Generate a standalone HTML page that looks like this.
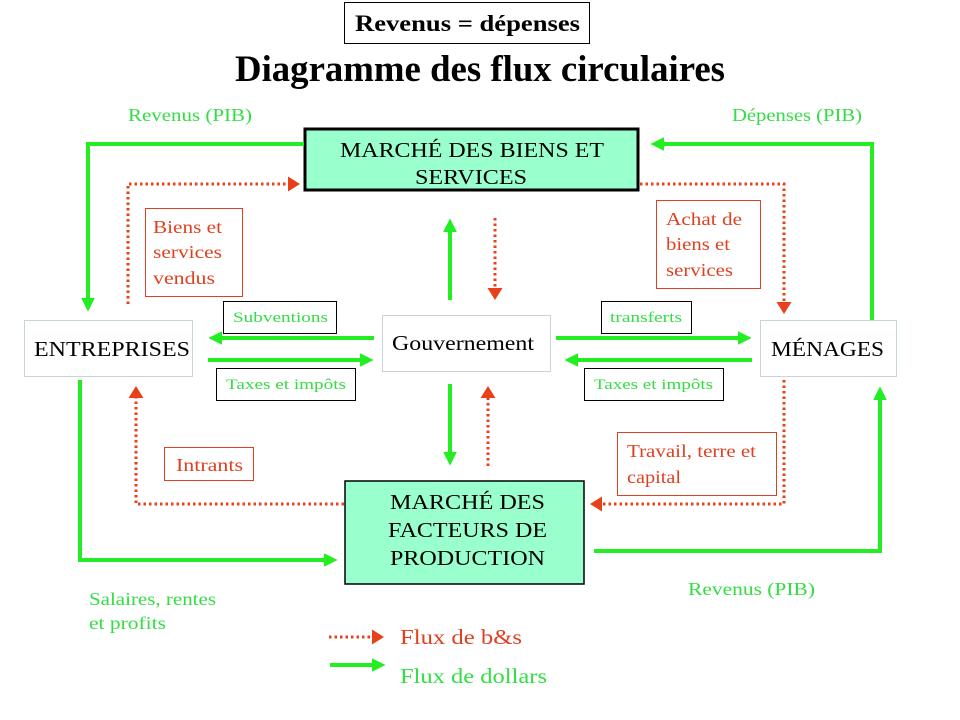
<!DOCTYPE html>
<html><head><meta charset="utf-8"><style>
html,body{margin:0;padding:0;background:#fff;}
svg{display:block;}
text{font-family:"Liberation Serif",serif;}
.g{fill:#33dd44;}
.r{fill:#e04020;}
.k{fill:#000;}
.gl{stroke:#22ee22;stroke-width:4;fill:none;}
.rl{stroke:#e8401a;stroke-width:3;fill:none;stroke-dasharray:2.5 3;}
</style></head><body>
<svg width="960" height="720" viewBox="0 0 960 720" xmlns="http://www.w3.org/2000/svg">
<defs>
<marker id="ga" markerWidth="4" markerHeight="4" refX="2" refY="2" orient="auto" markerUnits="strokeWidth"><path d="M0,0.3 L3.4,2 L0,3.7z" fill="#22ee22"/></marker>
<marker id="ra" markerWidth="5" markerHeight="5" refX="2" refY="2.5" orient="auto" markerUnits="strokeWidth"><path d="M0,0 L4,2.5 L0,5z" fill="#e8401a"/></marker>
</defs>
<g lengthAdjust="spacingAndGlyphs">
<rect x="344.5" y="2.5" width="245" height="41" fill="#fff" stroke="#000" stroke-width="1"/>
<text x="355" y="31" font-size="23" font-weight="bold" class="k" textLength="225" lengthAdjust="spacingAndGlyphs">Revenus = dépenses</text>
<text x="235" y="81" font-size="37" font-weight="bold" class="k" textLength="490" lengthAdjust="spacingAndGlyphs">Diagramme  des flux circulaires</text>

<rect x="305" y="129" width="333" height="61" fill="#99ffcc" stroke="#000" stroke-width="3"/>
<text x="340" y="157" font-size="21" class="k" textLength="264" lengthAdjust="spacingAndGlyphs">MARCHÉ DES BIENS ET</text>
<text x="415" y="184" font-size="21" class="k" textLength="112" lengthAdjust="spacingAndGlyphs">SERVICES</text>

<text x="128" y="121" font-size="18" class="g" textLength="124" lengthAdjust="spacingAndGlyphs">Revenus (PIB)</text>
<text x="732" y="121" font-size="18" class="g" textLength="130" lengthAdjust="spacingAndGlyphs">Dépenses (PIB)</text>

<polyline class="gl" points="304,144 88,144 88,306" marker-end="url(#ga)"/>
<polyline class="rl" points="128,304 128,184 294,184" marker-end="url(#ra)"/>
<polyline class="gl" points="872,320 872,144 656,144" marker-end="url(#ga)"/>
<polyline class="rl" points="640,184 784,184 784,308" marker-end="url(#ra)"/>

<rect x="145.5" y="208.5" width="97" height="88" fill="#fff" stroke="#e04020"/>
<text x="153" y="233" font-size="18" class="r" textLength="69" lengthAdjust="spacingAndGlyphs">Biens et</text>
<text x="153" y="258" font-size="18" class="r" textLength="69" lengthAdjust="spacingAndGlyphs">services</text>
<text x="153" y="284" font-size="18" class="r" textLength="62" lengthAdjust="spacingAndGlyphs">vendus</text>

<rect x="656.5" y="200.5" width="104" height="88" fill="#fff" stroke="#e04020"/>
<text x="666" y="225" font-size="18" class="r" textLength="76" lengthAdjust="spacingAndGlyphs">Achat de</text>
<text x="666" y="250" font-size="18" class="r" textLength="64" lengthAdjust="spacingAndGlyphs">biens et</text>
<text x="666" y="276" font-size="18" class="r" textLength="67" lengthAdjust="spacingAndGlyphs">services</text>

<rect x="24.5" y="320.5" width="168" height="56" fill="#fff" stroke="#c8d4dc"/>
<text x="34" y="356" font-size="21" class="k" textLength="156" lengthAdjust="spacingAndGlyphs">ENTREPRISES</text>
<rect x="382.5" y="315.5" width="168" height="56" fill="#fff" stroke="#c8d4dc"/>
<text x="392" y="350" font-size="21" class="k" textLength="142" lengthAdjust="spacingAndGlyphs">Gouvernement</text>
<rect x="760.5" y="320.5" width="136" height="56" fill="#fff" stroke="#c8d4dc"/>
<text x="771" y="356" font-size="21" class="k" textLength="113" lengthAdjust="spacingAndGlyphs">MÉNAGES</text>

<rect x="223.5" y="301.5" width="113" height="32" fill="#fff" stroke="#000"/>
<text x="233" y="322" font-size="15" class="g" textLength="95" lengthAdjust="spacingAndGlyphs">Subventions</text>
<rect x="601.5" y="301.5" width="90" height="32" fill="#fff" stroke="#000"/>
<text x="610" y="322" font-size="15" class="g" textLength="72" lengthAdjust="spacingAndGlyphs">transferts</text>
<rect x="216.5" y="368.5" width="139" height="32" fill="#fff" stroke="#000"/>
<text x="226" y="389" font-size="15" class="g" textLength="120" lengthAdjust="spacingAndGlyphs">Taxes et impôts</text>
<rect x="584.5" y="368.5" width="139" height="32" fill="#fff" stroke="#000"/>
<text x="594" y="389" font-size="15" class="g" textLength="119" lengthAdjust="spacingAndGlyphs">Taxes et impôts</text>

<line class="gl" x1="374" y1="338" x2="214" y2="338" marker-end="url(#ga)"/>
<line class="gl" x1="208" y1="360" x2="368" y2="360" marker-end="url(#ga)"/>
<line class="gl" x1="556" y1="338" x2="746" y2="338" marker-end="url(#ga)"/>
<line class="gl" x1="752" y1="360" x2="570" y2="360" marker-end="url(#ga)"/>

<line class="gl" x1="450" y1="300" x2="450" y2="224" marker-end="url(#ga)"/>
<line class="rl" x1="495" y1="218" x2="495" y2="294" marker-end="url(#ra)"/>
<line class="gl" x1="450" y1="384" x2="450" y2="460" marker-end="url(#ga)"/>
<line class="rl" x1="488" y1="466" x2="488" y2="392" marker-end="url(#ra)"/>

<rect x="345" y="481" width="239" height="103" fill="#99ffcc" stroke="#000" stroke-width="1.5"/>
<text x="390" y="509" font-size="21" class="k" textLength="155" lengthAdjust="spacingAndGlyphs">MARCHÉ DES</text>
<text x="388" y="537" font-size="21" class="k" textLength="159" lengthAdjust="spacingAndGlyphs">FACTEURS DE</text>
<text x="390" y="565" font-size="21" class="k" textLength="155" lengthAdjust="spacingAndGlyphs">PRODUCTION</text>

<polyline class="gl" points="80,380 80,560 332,560" marker-end="url(#ga)"/>
<polyline class="rl" points="344,504 136,504 136,392" marker-end="url(#ra)"/>
<polyline class="gl" points="594,551 880,551 880,392" marker-end="url(#ga)"/>
<polyline class="rl" points="784,380 784,504 596,504" marker-end="url(#ra)"/>

<rect x="164.5" y="447.5" width="89" height="33" fill="#fff" stroke="#e04020"/>
<text x="176" y="471" font-size="18" class="r" textLength="67" lengthAdjust="spacingAndGlyphs">Intrants</text>
<rect x="617.5" y="432.5" width="159" height="63" fill="#fff" stroke="#e04020"/>
<text x="627" y="457" font-size="18" class="r" textLength="129" lengthAdjust="spacingAndGlyphs">Travail, terre et</text>
<text x="627" y="483" font-size="18" class="r" textLength="54" lengthAdjust="spacingAndGlyphs">capital</text>

<text x="89" y="605" font-size="18" class="g" textLength="127" lengthAdjust="spacingAndGlyphs">Salaires, rentes</text>
<text x="89" y="629" font-size="18" class="g" textLength="77" lengthAdjust="spacingAndGlyphs">et profits</text>
<text x="688" y="595" font-size="18" class="g" textLength="127" lengthAdjust="spacingAndGlyphs">Revenus (PIB)</text>

<line class="rl" x1="329" y1="637" x2="378" y2="637" marker-end="url(#ra)"/>
<text x="400" y="644" font-size="21" class="r" textLength="122" lengthAdjust="spacingAndGlyphs">Flux de b&amp;s</text>
<line class="gl" x1="330" y1="665" x2="380" y2="665" marker-end="url(#ga)"/>
<text x="400" y="683" font-size="21" class="g" textLength="147" lengthAdjust="spacingAndGlyphs">Flux de dollars</text>
</g>
</svg>
</body></html>
